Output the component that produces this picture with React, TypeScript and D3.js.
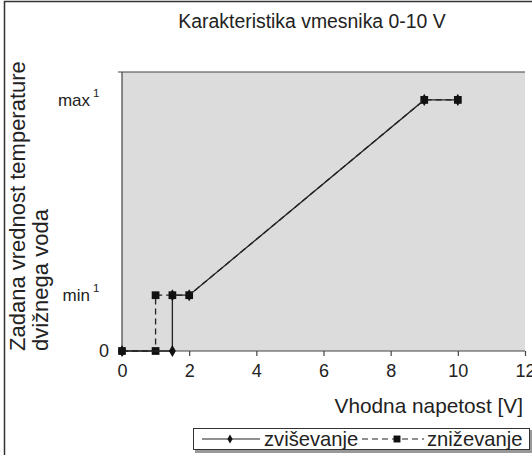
import * as d3 from 'd3';
import React, { useEffect, useRef } from 'react';

// x = input voltage [V], y = relative flow temperature set point (0, min, max)
const risingX = [0, 1.5, 1.5, 2, 9, 10];
const risingY = [0, 0, 20, 20, 90, 90];
const fallingX = [0, 1, 1, 1.5, 2, 9, 10];
const fallingY = [0, 0, 20, 20, 20, 90, 90];

const xTicks = [0, 2, 4, 6, 8, 10, 12];
const yTicks = [0, 20, 90];
const yTickLabels = ['0', 'min', 'max'];
const seriesNames = ['zviševanje', 'zniževanje'];

const FONT = "'Liberation Sans', Arial, sans-serif";
const INK = '#222';

function Chart() {
  const ref = useRef<SVGSVGElement>(null);

  useEffect(() => {
    const svg = d3.select(ref.current);
    svg.selectAll('*').remove();

    const W = 532, H = 455;
    const plot = { left: 122, right: 525, top: 72, bottom: 351 };

    const x = d3.scaleLinear().domain([0, 12]).range([plot.left, plot.right]);
    const y = d3.scaleLinear().domain([0, 100]).range([plot.bottom, plot.top]);

    // outer frame (cut off on right / bottom)
    svg.append('rect')
      .attr('x', 4.5).attr('y', 1.5)
      .attr('width', W + 20).attr('height', H + 20)
      .attr('fill', 'white').attr('stroke', '#333').attr('stroke-width', 1.5);

    // title
    svg.append('text')
      .attr('x', 312).attr('y', 28)
      .attr('text-anchor', 'middle')
      .attr('font-family', FONT).attr('font-size', 19.4)
      .attr('fill', INK)
      .text('Karakteristika vmesnika 0-10 V');

    // plot background
    svg.append('rect')
      .attr('x', plot.left).attr('y', plot.top)
      .attr('width', plot.right - plot.left).attr('height', plot.bottom - plot.top)
      .attr('fill', '#dcdcdc');

    // top border of plot area
    svg.append('line')
      .attr('x1', plot.left - 4).attr('x2', plot.right)
      .attr('y1', plot.top).attr('y2', plot.top)
      .attr('stroke', '#444').attr('stroke-width', 1.2);

    // y axis
    svg.append('line')
      .attr('x1', plot.left).attr('x2', plot.left)
      .attr('y1', plot.top).attr('y2', plot.bottom)
      .attr('stroke', '#444').attr('stroke-width', 1.2);

    // x axis
    const xAxis = d3.axisBottom(x).tickValues(xTicks).tickSize(5).tickSizeOuter(0).tickFormat(d3.format('d'));
    const gx = svg.append('g')
      .attr('transform', 'translate(0,' + plot.bottom + ')')
      .call(xAxis);
    gx.select('.domain').attr('stroke', '#444').attr('stroke-width', 1.2)
      .attr('d', 'M' + (plot.left - 4) + ',0H' + plot.right);
    gx.selectAll('.tick line').attr('stroke', '#444').attr('stroke-width', 1.2);
    gx.selectAll('.tick text')
      .attr('font-family', FONT).attr('font-size', 18).attr('fill', INK)
      .attr('y', 26).attr('dy', 0);

    // y tick labels
    const yl = svg.append('g');
    yTicks.forEach((v, i) => {
      yl.append('text')
        .attr('x', i === 0 ? plot.left - 13 : plot.left - 32)
        .attr('y', y(v))
        .attr('dy', '0.36em')
        .attr('text-anchor', 'end')
        .attr('font-family', FONT).attr('font-size', i === 0 ? 18 : 17).attr('fill', INK)
        .text(yTickLabels[i]);
      if (i > 0) {
        yl.append('text')
          .attr('x', plot.left - 29).attr('y', y(v) - 3)
          .attr('font-family', FONT).attr('font-size', 11.5).attr('fill', INK)
          .text('1');
      }
    });

    // y axis title (two lines)
    const yTitle = svg.append('text')
      .attr('transform', 'translate(25,' + 351 + ') rotate(-90)')
      .attr('font-family', FONT).attr('font-size', 22).attr('fill', INK);
    yTitle.append('tspan').attr('x', 0).attr('y', 0).text('Zadana vrednost temperature');
    yTitle.append('tspan').attr('x', 0).attr('y', 23).text('dvižnega voda');

    // x axis title
    svg.append('text')
      .attr('x', 523).attr('y', 413)
      .attr('text-anchor', 'end')
      .attr('font-family', FONT).attr('font-size', 20.8).attr('fill', INK)
      .text('Vhodna napetost [V]');

    const line = d3.line<[number, number]>().x(d => x(d[0])).y(d => y(d[1]));
    const rising: [number, number][] = risingX.map((v, i) => [v, risingY[i]]);
    const falling: [number, number][] = fallingX.map((v, i) => [v, fallingY[i]]);

    const diamond = d3.symbol().type(d3.symbolDiamond).size(42);
    const square = d3.symbol().type(d3.symbolSquare).size(60);

    // falling (dashed, squares)
    svg.append('path')
      .datum(falling)
      .attr('d', line)
      .attr('fill', 'none').attr('stroke', INK).attr('stroke-width', 1.3)
      .attr('stroke-dasharray', '6,4');
    svg.append('g').selectAll('path').data(falling).enter().append('path')
      .attr('d', square)
      .attr('transform', d => 'translate(' + x(d[0]) + ',' + y(d[1]) + ')')
      .attr('fill', '#111');

    // rising (solid, diamonds)
    svg.append('path')
      .datum(rising)
      .attr('d', line)
      .attr('fill', 'none').attr('stroke', INK).attr('stroke-width', 1.3);
    svg.append('g').selectAll('path').data(rising).enter().append('path')
      .attr('d', diamond)
      .attr('transform', d => 'translate(' + x(d[0]) + ',' + y(d[1]) + ')')
      .attr('fill', '#111');

    // legend
    const lg = svg.append('g');
    lg.append('rect')
      .attr('x', 195).attr('y', 430).attr('width', 337).attr('height', 23)
      .attr('fill', '#999');
    lg.append('rect')
      .attr('x', 193.5).attr('y', 428.5).attr('width', 336).attr('height', 21)
      .attr('fill', 'white').attr('stroke', '#333').attr('stroke-width', 1);
    lg.append('line').attr('x1', 202).attr('x2', 260).attr('y1', 439).attr('y2', 439)
      .attr('stroke', INK).attr('stroke-width', 1.2);
    lg.append('path').attr('d', d3.symbol().type(d3.symbolDiamond).size(24))
      .attr('transform', 'translate(230,439)').attr('fill', '#111');
    lg.append('text').attr('x', 264).attr('y', 446)
      .attr('font-family', FONT).attr('font-size', 20.2).attr('fill', INK)
      .text(seriesNames[0]);
    lg.append('line').attr('x1', 362).attr('x2', 424).attr('y1', 439).attr('y2', 439)
      .attr('stroke', INK).attr('stroke-width', 1.2).attr('stroke-dasharray', '6,4');
    lg.append('path').attr('d', d3.symbol().type(d3.symbolSquare).size(48))
      .attr('transform', 'translate(397,439)').attr('fill', '#111');
    lg.append('text').attr('x', 427).attr('y', 446)
      .attr('font-family', FONT).attr('font-size', 20.2).attr('fill', INK)
      .text(seriesNames[1]);
  }, []);

  return <svg ref={ref} width={532} height={455} style={{ position: 'absolute', left: 0, top: 0 }} />;
}

export default function App() {
  return <Chart />;
}
